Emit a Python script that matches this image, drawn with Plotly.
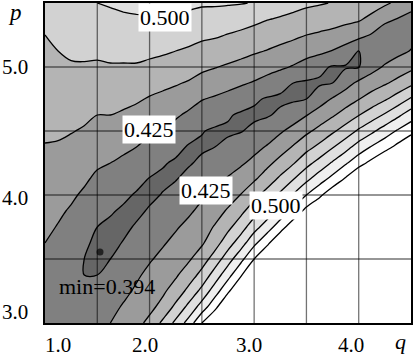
import plotly.graph_objects as go

# grid of the objective function (q across, p up)
q_vals = [1.0, 1.125, 1.25, 1.375, 1.5, 1.625, 1.75, 1.875, 2.0, 2.125, 2.25, 2.375, 2.5, 2.625, 2.75,
          2.875, 3.0, 3.125, 3.25, 3.375, 3.5, 3.625, 3.75, 3.875, 4.0, 4.125, 4.25, 4.375, 4.5]
p_vals = [3.0, 3.125, 3.25, 3.375, 3.5, 3.625, 3.75, 3.875, 4.0, 4.125, 4.25, 4.375, 4.5, 4.625, 4.75,
          4.875, 5.0, 5.125, 5.25, 5.375, 5.5]

# objective values x1000, one list per p row (0.600 = at or above the top contour)
z_p3000 = [418, 417, 417, 417, 418, 425, 434, 443, 456, 480, 506, 535, 575, 600, 600, 600, 600, 600, 600, 600,
           600, 600, 600, 600, 600, 600, 600, 600, 600]
z_p3125 = [415, 412, 411, 411, 412, 419, 427, 436, 444, 457, 481, 507, 536, 569, 600, 600, 600, 600, 600, 600,
           600, 600, 600, 600, 600, 600, 600, 600, 600]
z_p3250 = [418, 410, 406, 405, 406, 413, 420, 428, 437, 446, 460, 482, 507, 538, 571, 600, 600, 600, 600, 600,
           600, 600, 600, 600, 600, 600, 600, 600, 600]
z_p3375 = [420, 413, 405, 400, 400, 407, 414, 422, 430, 438, 447, 462, 483, 511, 541, 573, 600, 600, 600, 600,
           600, 600, 600, 600, 600, 600, 600, 600, 600]
z_p3500 = [422, 416, 409, 400, 395, 400, 408, 415, 423, 430, 438, 447, 463, 486, 514, 543, 575, 600, 600, 600,
           600, 600, 600, 600, 600, 600, 600, 600, 600]
z_p3625 = [425, 420, 413, 404, 395, 395, 401, 408, 416, 423, 430, 438, 447, 465, 489, 514, 544, 570, 598, 600,
           600, 600, 600, 600, 600, 600, 600, 600, 600]
z_p3750 = [429, 424, 418, 410, 400, 396, 396, 402, 409, 416, 423, 430, 439, 452, 469, 489, 515, 538, 564, 591,
           600, 600, 600, 600, 600, 600, 600, 600, 600]
z_p3875 = [433, 428, 423, 416, 407, 402, 397, 396, 402, 408, 415, 422, 430, 440, 453, 469, 489, 510, 533, 557,
           583, 600, 600, 600, 600, 600, 600, 600, 600]
z_p4000 = [437, 433, 428, 422, 414, 410, 404, 398, 396, 401, 407, 414, 422, 429, 439, 451, 467, 485, 505, 527,
           550, 570, 592, 600, 600, 600, 600, 600, 600]
z_p4125 = [441, 438, 434, 428, 421, 418, 413, 406, 399, 396, 399, 406, 413, 419, 427, 436, 447, 462, 480, 499,
           519, 539, 558, 578, 600, 600, 600, 600, 600]
z_p4250 = [445, 443, 440, 435, 428, 425, 421, 415, 409, 402, 397, 398, 404, 409, 415, 422, 431, 444, 458, 473,
           492, 509, 528, 547, 566, 582, 600, 600, 600]
z_p4375 = [449, 448, 445, 441, 436, 433, 429, 425, 418, 412, 406, 398, 397, 400, 405, 411, 418, 427, 439, 452,
           467, 481, 498, 516, 536, 552, 566, 582, 600]
z_p4500 = [453, 453, 451, 448, 443, 441, 438, 434, 428, 423, 417, 409, 401, 397, 397, 399, 405, 412, 422, 433,
           445, 457, 471, 486, 504, 520, 537, 553, 567]
z_p4625 = [457, 457, 457, 454, 450, 450, 447, 443, 438, 434, 428, 421, 414, 409, 402, 397, 396, 398, 404, 413,
           424, 436, 447, 460, 474, 488, 503, 520, 538]
z_p4750 = [460, 462, 462, 461, 458, 458, 456, 453, 448, 445, 441, 434, 426, 422, 418, 411, 403, 398, 396, 397,
           400, 414, 427, 438, 449, 460, 472, 486, 503]
z_p4875 = [464, 467, 468, 467, 465, 465, 465, 463, 459, 455, 452, 448, 441, 437, 432, 428, 423, 416, 408, 400,
           397, 397, 400, 416, 430, 439, 447, 457, 469]
z_p5000 = [468, 471, 473, 473, 472, 473, 473, 473, 470, 467, 463, 460, 455, 451, 447, 443, 438, 434, 429, 423,
           415, 405, 398, 398, 399, 416, 428, 436, 444]
z_p5125 = [471, 475, 478, 479, 479, 481, 481, 481, 480, 478, 475, 472, 467, 464, 461, 457, 453, 449, 444, 439,
           434, 431, 424, 415, 400, 403, 410, 419, 426]
z_p5250 = [475, 480, 483, 486, 486, 488, 489, 490, 489, 488, 486, 483, 480, 478, 474, 470, 466, 463, 459, 455,
           450, 447, 444, 439, 433, 423, 411, 414, 419]
z_p5375 = [478, 484, 489, 492, 493, 495, 497, 498, 498, 498, 496, 494, 491, 490, 489, 486, 481, 476, 473, 470,
           466, 462, 459, 456, 453, 444, 431, 424, 421]
z_p5500 = [482, 489, 494, 498, 500, 502, 504, 505, 506, 507, 506, 505, 503, 503, 502, 501, 499, 492, 486, 482,
           479, 477, 474, 471, 468, 461, 454, 445, 430]

z_rows = [z_p3000, z_p3125, z_p3250, z_p3375, z_p3500, z_p3625, z_p3750, z_p3875, z_p4000, z_p4125,
          z_p4250, z_p4375, z_p4500, z_p4625, z_p4750, z_p4875, z_p5000, z_p5125, z_p5250, z_p5375, z_p5500]

min_q = [1.526]
min_p = [3.554]
min_text = 'min=0.394'

# contour labels as printed on the chart
label_text = ['0.500', '0.425', '0.425', '0.500']
x_tick_text = ['1.0', '2.0', '3.0', '4.0']
y_tick_text = ['3.0', '4.0', '5.0']

z = [[v / 1000 for v in row] for row in z_rows]

band_colors = ['#666666', '#808080', '#9b9b9b', '#b4b4b4', '#d2d2d2',
               '#e0e0e0', '#efefef', '#ffffff', '#ffffff']
cscale = [[k / 8, c] for k, c in enumerate(band_colors)]

fig = go.Figure()
fig.add_trace(go.Contour(
    x=q_vals, y=p_vals, z=z, autocontour=False,
    contours=dict(start=0.4, end=0.5755, size=0.025, coloring='fill', showlabels=False),
    colorscale=cscale, showscale=False,
    line=dict(color='black', width=1.3, smoothing=1.0),
    hoverinfo='skip'))
fig.add_trace(go.Scatter(x=min_q, y=min_p, mode='markers',
                         marker=dict(color='#222222', size=7), hoverinfo='skip'))

grid_line = dict(color='rgba(0,0,0,0.55)', width=1.3)
shapes = []
for gx in [1.5, 2.0, 2.5, 3.0, 3.5, 4.0]:
    shapes.append(dict(type='line', xref='x', yref='paper', x0=gx, x1=gx, y0=0, y1=1,
                       line=grid_line, layer='above'))
for gy in [3.5, 4.0, 4.5, 5.0]:
    shapes.append(dict(type='line', xref='paper', yref='y', x0=0, x1=1, y0=gy, y1=gy,
                       line=grid_line, layer='above'))

serif = 'Liberation Serif, Times New Roman, Times, DejaVu Serif, serif'
label_pos = [(2.143, 5.387), (1.995, 4.514), (2.540, 4.033), (3.209, 3.916)]
ann = []
for t, (x, y) in zip(label_text, label_pos):
    ann.append(dict(x=x, y=y, xref='x', yref='y', text=t, showarrow=False, bgcolor='white',
                    borderpad=1, xanchor='center', yanchor='middle',
                    font=dict(family=serif, size=22, color='black')))
ann.append(dict(x=1.59, y=3.283, xref='x', yref='y', text=min_text, showarrow=False,
                xanchor='center', yanchor='middle', font=dict(family=serif, size=22, color='black')))
for t, x in zip(x_tick_text, [1.124, 1.956, 2.946, 3.926]):
    ann.append(dict(x=x, y=-0.068, xref='x', yref='paper', text=t, showarrow=False,
                    xanchor='center', yanchor='middle', font=dict(family=serif, size=21, color='black')))
for t, y in zip(y_tick_text, [3.085, 3.978, 5.0]):
    ann.append(dict(x=-0.082, y=y, xref='paper', yref='y', text=t, showarrow=False,
                    xanchor='center', yanchor='middle', font=dict(family=serif, size=21, color='black')))
ann.append(dict(x=-0.082, y=0.969, xref='paper', yref='paper', text='<i>p</i>', showarrow=False,
                xanchor='center', yanchor='middle', font=dict(family=serif, size=23, color='black')))
ann.append(dict(x=0.972, y=-0.058, xref='paper', yref='paper', text='<i>q</i>', showarrow=False,
                xanchor='center', yanchor='middle', font=dict(family=serif, size=22, color='black')))

fig.update_layout(width=414, height=356, margin=dict(l=45, r=3, t=1, b=33),
                  paper_bgcolor='white', plot_bgcolor='white', showlegend=False,
                  shapes=shapes, annotations=ann)
fig.update_xaxes(range=[1.0, 4.5], showgrid=False, showticklabels=False, ticks='', zeroline=False,
                 showline=True, mirror=True, linecolor='black', linewidth=1.5, layer='above traces')
fig.update_yaxes(range=[3.0, 5.5], showgrid=False, showticklabels=False, ticks='', zeroline=False,
                 showline=True, mirror=True, linecolor='black', linewidth=1.5, layer='above traces')
fig.write_html("out.html", config={'displayModeBar': False},
               post_script="document.body.style.margin='0px';")
